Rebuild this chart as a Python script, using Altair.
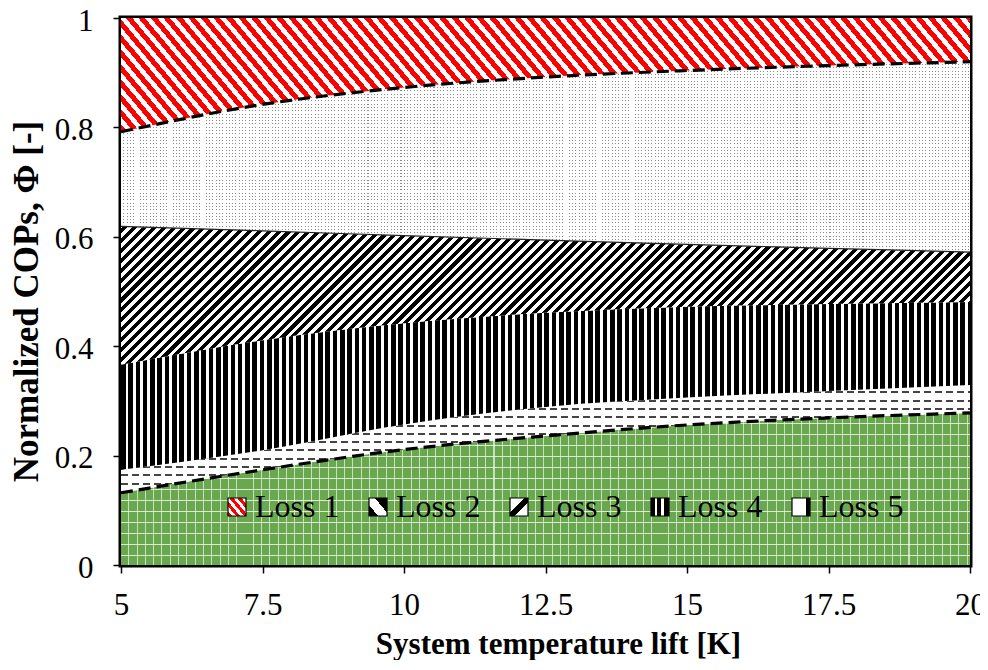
import math
import json
import altair as alt
import pandas as pd

# ---------------- data ----------------
lift = [5, 7.5, 10, 12.5, 15, 17.5, 20]
base_cop = [0.132, 0.174, 0.211, 0.236, 0.256, 0.269, 0.278]   # green area top
top_loss5 = [0.174, 0.210, 0.257, 0.289, 0.306, 0.318, 0.329]
top_loss4 = [0.366, 0.411, 0.442, 0.461, 0.472, 0.477, 0.481]
top_loss3 = [0.619, 0.611, 0.602, 0.594, 0.586, 0.579, 0.572]
top_loss2 = [0.792, 0.842, 0.873, 0.892, 0.904, 0.913, 0.920]
top_loss1 = [1, 1, 1, 1, 1, 1, 1]
series = ["Loss 1", "Loss 2", "Loss 3", "Loss 4", "Loss 5"]
x_ticks = [5, 7.5, 10, 12.5, 15, 17.5, 20]
y_ticks = [0, 0.2, 0.4, 0.6, 0.8, 1]

df = pd.DataFrame({
    "lift": lift,
    "zero": [0] * len(lift),
    "base": base_cop,
    "l5": top_loss5,
    "l4": top_loss4,
    "l3": top_loss3,
    "l2": top_loss2,
    "l1": top_loss1,
})
legend_df = pd.DataFrame({"series": series})

# ---------------- styling helpers (hatch patterns as gradients) ----------------
W, H = 849, 547
FONT = "Liberation Serif"
CLEAR = "rgba(255,255,255,0)"


def bands(pattern, length):
    stops, pos = [], 0.0
    while pos < length - 1e-9:
        for col, w in pattern:
            a = pos / length
            b = min(1.0, (pos + w) / length)
            stops.append({"offset": round(a, 5), "color": col})
            stops.append({"offset": round(b, 5), "color": col})
            pos += w
            if pos >= length:
                break
    return stops


def grad_x(pattern, w):
    return {"gradient": "linear", "x1": 0, "y1": 0, "x2": 1, "y2": 0,
            "stops": bands(pattern, w)}


def grad_y(pattern, h):
    return {"gradient": "linear", "x1": 0, "y1": 0, "x2": 0, "y2": 1,
            "stops": bands(pattern, h)}


def grad_diag(pattern, w, h, angle):
    dx, dy = math.cos(math.radians(angle)), math.sin(math.radians(angle))
    gx, gy = dy * w, -dx * h
    u0 = 0 if gx >= 0 else 1
    v0 = 0 if gy >= 0 else 1
    t = (abs(gx) + abs(gy)) / (gx * gx + gy * gy)
    length = abs(dy) * w + abs(dx) * h
    return {"gradient": "linear", "x1": u0, "y1": v0,
            "x2": round(u0 + t * gx, 5), "y2": round(v0 + t * gy, 5),
            "stops": bands(pattern, length)}


def span(lo, hi):
    return (max(hi) - min(lo)) * H


h_green = span([0], base_cop)
h_l5 = span(base_cop, top_loss5)
h_l4 = span(top_loss5, top_loss4)
h_l3 = span(top_loss4, top_loss3)
h_l2 = span(top_loss3, top_loss2)
h_l1 = span(top_loss2, top_loss1)

GREEN = "#6aa84f"
fill_green_a = grad_x([(GREEN, 7.3), ("#c9e0bd", 1.0)], W)
fill_green_b = grad_y([(CLEAR, 10.0), ("rgba(255,255,255,0.75)", 1.0)], h_green)
fill_l5_a = grad_y([("white", 6.3), ("#444444", 2.0)], h_l5)
fill_l5_b = grad_x([(CLEAR, 7.0), ("white", 4.0)], W)
fill_l4 = grad_x([("black", 4.6), ("white", 2.7)], W)
fill_l3 = grad_diag([("black", 3.6), ("white", 3.4)], W, h_l3, -45)
fill_l2_a = grad_x([("white", 2.3), ("#8a8a8a", 1.0)], W)
fill_l2_b = grad_y([("white", 2.3), (CLEAR, 1.0)], h_l2)
fill_l1 = grad_diag([("#ff0000", 5.0), ("white", 4.6)], W, h_l1, 50)

# legend symbol patterns (18 x 18 px)
S = 18
leg_fill = [
    grad_diag([("#ff0000", 3.2), ("white", 3.0)], S, S, 50),
    grad_diag([("black", 7), ("white", 9), ("black", 20)], S, S, 50),
    grad_diag([("white", 9.5), ("black", 6), ("white", 20)], S, S, -45),
    grad_x([("black", 4), ("white", 2.5), ("black", 4), ("white", 2.5), ("black", 5)], S),
    grad_x([("white", 14), ("black", 4)], S),
]
leg_range = [alt.ExprRef(expr=json.dumps(g)) for g in leg_fill]

# ---------------- encodings ----------------
x_axis = alt.Axis(values=x_ticks, format=".4~g", title="System temperature lift [K]",
                  titleFont=FONT, titleFontSize=31, titleFontWeight="bold", titleColor="black",
                  titleX=437, titleY=88, titleBaseline="alphabetic", titleAlign="center",
                  labelFont=FONT, labelFontSize=31, labelColor="black", labelPadding=17,
                  labelFlush=False, labelOverlap=False,
                  tickSize=8, tickColor="black", tickWidth=1.5, domain=False, grid=False)
y_axis = alt.Axis(values=y_ticks, format=".4~g", title="Normalized COPs, Φ [-]",
                  titleFont=FONT, titleFontSize=35, titleFontWeight="bold", titleColor="black",
                  titleX=-84, titleY=283, titleAngle=270, titleBaseline="alphabetic",
                  titleAlign="center",
                  labelFont=FONT, labelFontSize=31, labelColor="black", labelPadding=20,
                  labelOffset=3, labelFlush=False, labelOverlap=False,
                  tickSize=8, tickColor="black", tickWidth=1.5, domain=False, grid=False)

xs = alt.Scale(domain=[5, 20], nice=False, zero=False)
ys = alt.Scale(domain=[0, 1], nice=False)


def X():
    return alt.X("lift:Q", scale=xs, axis=x_axis)


def Y(field):
    return alt.Y(f"{field}:Q", scale=ys, axis=y_axis)


base = alt.Chart(df)


def area(lo, hi, fill):
    return base.mark_area(fill=fill, interpolate="monotone", strokeWidth=0).encode(
        x=X(), y=Y(lo), y2=alt.Y2(f"{hi}:Q"))


layers = [
    area("zero", "base", fill_green_a),
    area("zero", "base", fill_green_b),
    area("base", "l5", fill_l5_a),
    area("base", "l5", fill_l5_b),
    area("l5", "l4", fill_l4),
    area("l4", "l3", fill_l3),
    area("l3", "l2", fill_l2_a),
    area("l3", "l2", fill_l2_b),
    area("l2", "l1", fill_l1),
    base.mark_line(color="#222222", strokeWidth=1.2, interpolate="monotone").encode(x=X(), y=Y("l3")),
    base.mark_line(color="black", strokeWidth=3.2, strokeDash=[12, 6], interpolate="monotone").encode(x=X(), y=Y("base")),
    base.mark_line(color="black", strokeWidth=3.2, strokeDash=[12, 6], interpolate="monotone").encode(x=X(), y=Y("l2")),
]

legend_layer = alt.Chart(legend_df).mark_square().encode(
    fill=alt.Fill("series:N",
                  scale=alt.Scale(domain=series, range=leg_range),
                  legend=alt.Legend(
                      title=None, orient="none", legendX=100, legendY=473,
                      direction="horizontal", columns=5, symbolType="square",
                      symbolSize=324, symbolStrokeWidth=1.2, symbolStrokeColor="black",
                      symbolOpacity=1,
                      labelFont=FONT, labelFontSize=32, labelColor="black",
                      labelOffset=2, columnPadding=22, padding=0,
                  ))
).transform_filter("false")

chart = alt.layer(*layers, legend_layer).properties(
    width=W, height=H,
    autosize=alt.AutoSizeParams(type="none"),
    padding={"left": 113, "top": 10, "right": 10, "bottom": 95},
    background="white",
).configure_view(stroke="black", strokeWidth=5)

chart.save("out.html", embed_options={"renderer": "svg", "actions": False})
